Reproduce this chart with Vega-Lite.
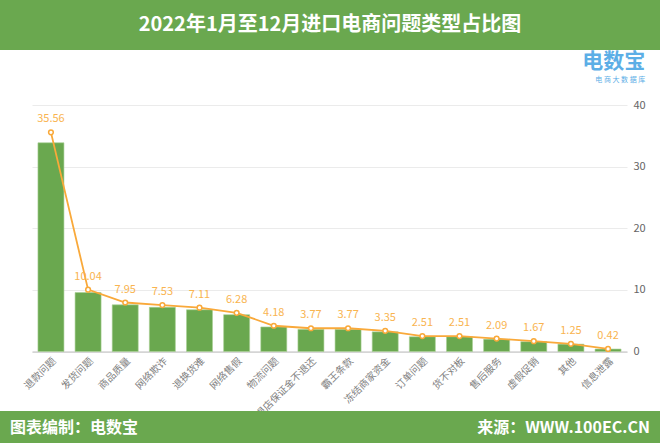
{
  "$schema": "https://vega.github.io/schema/vega-lite/v6.json",
  "padding": 0,
  "background": "white",
  "bounds": "flush",
  "spacing": 0,
  "config": {
    "view": {"stroke": null},
    "font": "Noto Sans CJK SC",
    "concat": {"spacing": 0}
  },
  "datasets": {
    "issues": [
      {"name": "退款问题", "value": 35.56},
      {"name": "发货问题", "value": 10.04},
      {"name": "商品质量", "value": 7.95},
      {"name": "网络欺诈", "value": 7.53},
      {"name": "退换货难", "value": 7.11},
      {"name": "网络售假", "value": 6.28},
      {"name": "物流问题", "value": 4.18},
      {"name": "退店保证金不退还", "value": 3.77},
      {"name": "霸王条款", "value": 3.77},
      {"name": "冻结商家资金", "value": 3.35},
      {"name": "订单问题", "value": 2.51},
      {"name": "货不对板", "value": 2.51},
      {"name": "售后服务", "value": 2.09},
      {"name": "虚假促销", "value": 1.67},
      {"name": "其他", "value": 1.25},
      {"name": "信息泄露", "value": 0.42}
    ]
  },
  "vconcat": [
    {
      "width": 660,
      "height": 50,
      "view": {"fill": "#6aa84f", "stroke": null},
      "data": {"values": [{"t": "2022年1月至12月进口电商问题类型占比图"}]},
      "mark": {"type": "text", "color": "white", "fontSize": 20, "fontWeight": "bold", "font": "Noto Sans CJK SC"},
      "encoding": {"text": {"field": "t"}}
    },
    {
      "width": 660,
      "height": 54.5,
      "data": {"values": [{"t": ""}]},
      "mark": {"type": "text"},
      "encoding": {"text": {"field": "t"}}
    },
    {
      "bounds": "flush",
      "spacing": 0,
      "hconcat": [
        {
          "width": 32,
          "height": 246.5,
          "data": {"values": [{"t": ""}]},
          "mark": {"type": "text"},
          "encoding": {"text": {"field": "t"}}
        },
        {
          "width": 595,
          "height": 246.5,
          "data": {"name": "issues"},
          "title": {
            "text": "电数宝",
            "subtitle": "电 商 大 数 据 库",
            "anchor": "end",
            "dx": 0,
            "offset": 16,
            "color": "#5caee6",
            "fontSize": 21,
            "fontWeight": "bold",
            "subtitleColor": "#5caee6",
            "subtitleFontSize": 7,
            "subtitlePadding": 4
          },
          "encoding": {
            "x": {
              "field": "name",
              "type": "nominal",
              "sort": null,
              "scale": {"paddingInner": 0.3, "paddingOuter": 0.16},
              "axis": {
                "title": null,
                "labelAngle": -45,
                "labelFontSize": 10,
                "labelColor": "#7f7f7f",
                "ticks": false,
                "domainColor": "#bfbfbf",
                "labelPadding": 4
              }
            }
          },
          "layer": [
            {
              "mark": {"type": "bar", "color": "#6aa84f", "stroke": "#a9d096", "strokeWidth": 0.6},
              "encoding": {
                "y": {"field": "value", "type": "quantitative", "scale": {"domain": [0, 42]}, "axis": null}
              }
            },
            {
              "layer": [
                {
                  "mark": {"type": "line", "color": "#f9a93a", "strokeWidth": 1.8}
                },
                {
                  "mark": {"type": "point", "filled": true, "fill": "white", "stroke": "#f9a93a", "strokeWidth": 1.5, "size": 22, "opacity": 1}
                },
                {
                  "mark": {"type": "text", "color": "#f9b450", "fontSize": 11, "dy": -13},
                  "encoding": {"text": {"field": "value", "type": "quantitative", "format": ".2f"}}
                }
              ],
              "encoding": {
                "y": {
                  "field": "value",
                  "type": "quantitative",
                  "scale": {"domain": [0, 40]},
                  "axis": {
                    "orient": "right",
                    "title": null,
                    "values": [0, 10, 20, 30, 40],
                    "grid": true,
                    "gridColor": "#ebebeb",
                    "domain": false,
                    "ticks": false,
                    "labelColor": "#666666",
                    "labelFontSize": 11,
                    "labelPadding": 6
                  }
                }
              }
            }
          ],
          "resolve": {"scale": {"y": "independent"}}
        }
      ]
    },
    {
      "width": 660,
      "height": 305.5,
      "data": {"values": [{"t": ""}]},
      "mark": {"type": "text"},
      "encoding": {"text": {"field": "t"}}
    },
    {
      "width": 660,
      "height": 33,
      "view": {"fill": "#6aa84f", "stroke": null},
      "encoding": {
        "x": {"field": "side", "type": "nominal", "scale": {"type": "point", "domain": ["L", "R"], "range": [10, 650], "padding": 0}, "axis": null}
      },
      "layer": [
        {
          "data": {"values": [{"side": "L", "t": "图表编制：电数宝"}]},
          "mark": {"type": "text", "align": "left", "color": "white", "fontSize": 16, "fontWeight": "bold"},
          "encoding": {"text": {"field": "t"}}
        },
        {
          "data": {"values": [{"side": "R", "t": "来源：WWW.100EC.CN"}]},
          "mark": {"type": "text", "align": "right", "color": "white", "fontSize": 16, "fontWeight": "bold"},
          "encoding": {"text": {"field": "t"}}
        }
      ]
    }
  ]
}
